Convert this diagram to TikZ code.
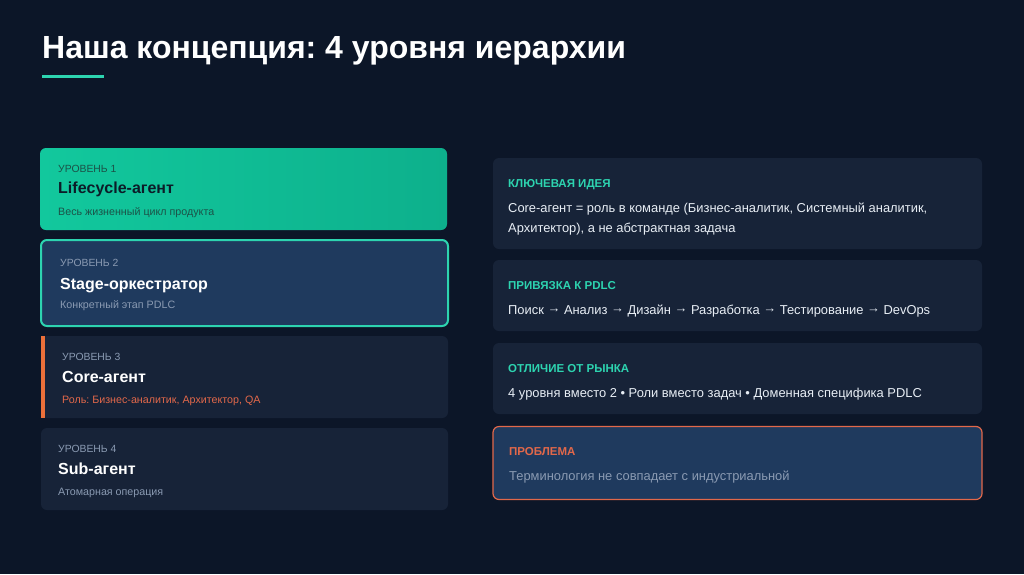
\documentclass[tikz,border=0pt]{standalone}
\usepackage{fontspec}
\setmainfont{Liberation Sans}
\usepackage{xcolor}
\usepackage{tikz}
\usetikzlibrary{positioning}
\frenchspacing
\definecolor{slidebg}{RGB}{12, 22, 40}
\definecolor{cardbg}{RGB}{23, 35, 56}
\definecolor{cardblue}{RGB}{31, 58, 94}
\definecolor{accentteal}{RGB}{45, 212, 176}
\definecolor{tealleft}{RGB}{18, 200, 157}
\definecolor{tealright}{RGB}{13, 176, 140}
\definecolor{accentorange}{RGB}{236, 112, 58}
\definecolor{notered}{RGB}{226, 104, 74}
\definecolor{mutedgray}{RGB}{138, 154, 178}
\definecolor{bodywhite}{RGB}{232, 238, 245}
\definecolor{darkink}{RGB}{12, 28, 40}
\definecolor{darktag}{RGB}{28, 82, 72}
\newcommand{\stepto}{\raisebox{1.6pt}{→}}

\begin{document}
\begin{tikzpicture}[x=1pt, y=-1pt,
  card/.style={rounded corners=6pt, fill=cardbg, inner sep=0pt},
  lvltag/.style={anchor=base west, inner sep=0pt, font=\fontsize{10.4}{12}\selectfont, text=mutedgray},
  lvlname/.style={anchor=base west, inner sep=0pt, font=\fontsize{16}{18}\selectfont\bfseries, text=white},
  lvlnote/.style={anchor=base west, inner sep=0pt, font=\fontsize{10.7}{13}\selectfont, text=mutedgray},
  infohead/.style={anchor=base west, inner sep=0pt, font=\fontsize{11.5}{13}\selectfont\bfseries, text=accentteal},
  infobody/.style={anchor=base west, inner sep=0pt, font=\fontsize{12.9}{20}\selectfont, text=bodywhite}
]
\fill[slidebg] (0,0) rectangle (1024,574);
\useasboundingbox (0,0) rectangle (1024,574);

% title
\node[anchor=base west, inner sep=0pt, font=\fontsize{32}{36}\selectfont\bfseries, text=white]
  (title) at (42,58) {Наша концепция: 4 уровня иерархии};
\coordinate (ulstart) at (42,76);
\coordinate (ulend) at (104,76);
\draw[accentteal, line width=3pt] (ulstart) -- (ulend);

% levels
\node[card, left color=tealleft, right color=tealright, minimum width=407pt, minimum height=82pt]
  (lvlone) at (243.5,189) {};
\node[lvltag, text=darktag] (tagone) at (58,172.5) {УРОВЕНЬ 1};
\node[lvlname, text=darkink] (nameone) at (58,193) {Lifecycle-агент};
\node[lvlnote, text=darktag] (noteone) at (58,215.5) {Весь жизненный цикл продукта};

\node[card, fill=cardblue, draw=accentteal, line width=2pt, minimum width=407pt, minimum height=86pt]
  (lvltwo) at (244.5,283) {};
\node[lvltag] (tagtwo) at (60,266.5) {УРОВЕНЬ 2};
\node[lvlname] (nametwo) at (60,289) {Stage-оркестратор};
\node[lvlnote] (notetwo) at (60,308.5) {Конкретный этап PDLC};

\node[card, minimum width=407pt, minimum height=82pt] (lvlthree) at (244.5,377) {};
\fill[accentorange] (lvlthree.north west) rectangle ++(4,82);
\node[lvltag] (tagthree) at (62,360.5) {УРОВЕНЬ 3};
\node[lvlname] (namethree) at (62,382.5) {Core-агент};
\node[lvlnote, text=notered] (notethree) at (62,403.5) {Роль: Бизнес-аналитик, Архитектор, QA};

\node[card, minimum width=407pt, minimum height=82pt] (lvlfour) at (244.5,469) {};
\node[lvltag] (tagfour) at (58,452.5) {УРОВЕНЬ 4};
\node[lvlname] (namefour) at (58,474.5) {Sub-агент};
\node[lvlnote] (notefour) at (58,495.5) {Атомарная операция};

% info cards
\node[card, minimum width=489pt, minimum height=91pt] (keyidea) at (737.5,203.5) {};
\node[infohead] (keyhead) at (508,187.5) {КЛЮЧЕВАЯ ИДЕЯ};
\node[infobody] (keytext) at (508,212.5) {Core-агент = роль в команде (Бизнес-аналитик, Системный аналитик,};
\node[infobody] (keytexttwo) at (508,232.5) {Архитектор), а не абстрактная задача};

\node[card, minimum width=489pt, minimum height=71pt] (pdlc) at (737.5,295.5) {};
\node[infohead] (pdlchead) at (508,289) {ПРИВЯЗКА К PDLC};
\node[infobody] (pdlctext) at (508,314) {Поиск \stepto{} Анализ \stepto{} Дизайн \stepto{} Разработка \stepto{} Тестирование \stepto{} DevOps};

\node[card, minimum width=489pt, minimum height=71pt] (market) at (737.5,378.5) {};
\node[infohead] (markethead) at (508,372) {ОТЛИЧИЕ ОТ РЫНКА};
\node[infobody] (markettext) at (508,397) {4 уровня вместо 2 • Роли вместо задач • Доменная специфика PDLC};

\node[card, fill=cardblue, draw=notered, line width=1.2pt, minimum width=489pt, minimum height=73pt] (problem) at (737.5,463) {};
\node[infohead, text=notered] (problemhead) at (509,455.5) {ПРОБЛЕМА};
\node[infobody, text=mutedgray] (problemtext) at (509,480.5) {Терминология не совпадает с индустриальной};
\end{tikzpicture}
\end{document}
